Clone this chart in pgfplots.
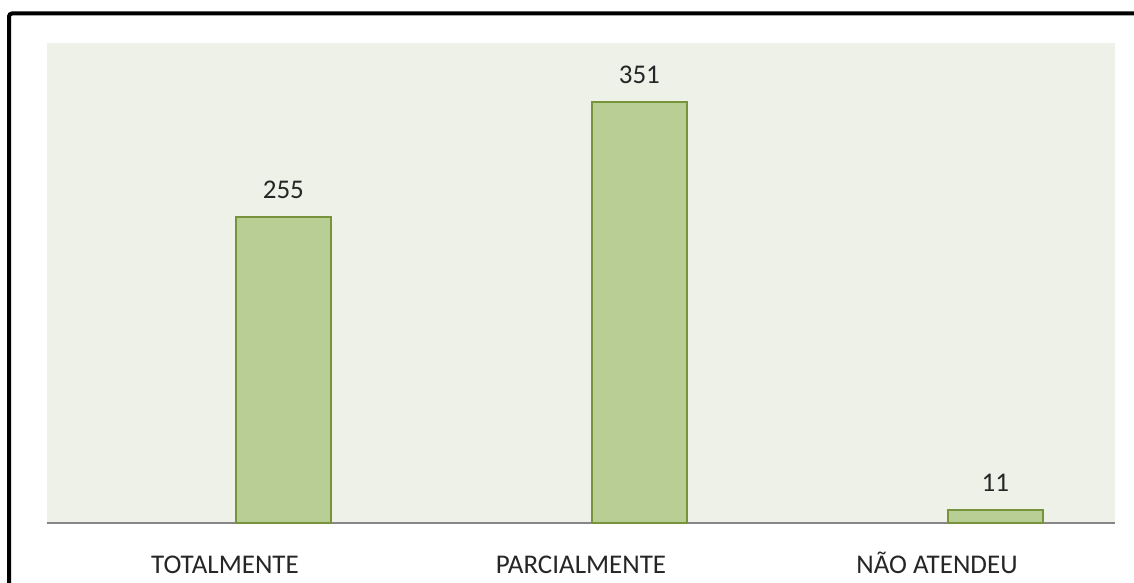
\documentclass[border=0pt]{standalone}
\usepackage{pgfplots}
\pgfplotsset{compat=1.18}
\usepackage{fontspec}
\setmainfont{Carlito}
\definecolor{plotbg}{RGB}{238,241,232}
\definecolor{barfill}{RGB}{185,206,149}
\definecolor{barline}{RGB}{119,147,60}
\definecolor{axisgray}{RGB}{134,134,134}
\begin{document}
\begin{tikzpicture}
\useasboundingbox (0,0) rectangle (567pt,291.5pt);
\fill[white] (0,0) rectangle (567pt,291.5pt);
\begin{axis}[
  at={(23.5pt,30pt)}, anchor=south west,
  scale only axis, width=534pt, height=240pt,
  xmin=-0.5, xmax=2.5, ymin=0, ymax=400,
  axis x line=bottom, axis y line=none,
  x axis line style={-, draw=axisgray, line width=0.9pt},
  axis background/.style={fill=plotbg},
  xtick={0,1,2},
  xticklabels={TOTALMENTE, PARCIALMENTE, NÃO ATENDEU},
  major tick length=0pt,
  ytick=\empty,
  /pgf/number format/assume math mode=true,
  xticklabel style={font=\fontsize{13.5}{16}\selectfont, color=black!85, anchor=base, yshift=-25pt},
  ybar, bar width=47.5pt,
  nodes near coords,
  every node near coord/.append style={font=\fontsize{13.5}{16}\selectfont, color=black!85, anchor=base, yshift=9pt},
  clip=false,
]
\addplot[fill=barfill, draw=barline, line width=0.9pt, bar shift=0pt] coordinates {(0.164,255) (1.164,351) (2.164,11)};
\end{axis}
\draw[line width=2pt, rounded corners=1.5pt] (4.5pt,-2pt) -- (4.5pt,284.75pt) -- (570pt,284.75pt);
\end{tikzpicture}
\end{document}
